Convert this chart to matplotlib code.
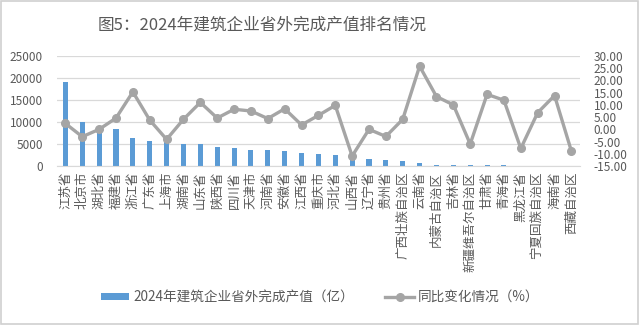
import matplotlib
matplotlib.use("Agg")
import matplotlib.pyplot as plt
import numpy as np
from matplotlib.lines import Line2D
from matplotlib.patches import Patch, Rectangle

plt.rcParams['font.family'] = ['Noto Sans CJK SC', 'DejaVu Sans']

provinces = ['江苏省', '北京市', '湖北省', '福建省', '浙江省', '广东省', '上海市', '湖南省',
             '山东省', '陕西省', '四川省', '天津市', '河南省', '安徽省', '江西省', '重庆市',
             '河北省', '山西省', '辽宁省', '贵州省', '广西壮族自治区', '云南省', '内蒙古自治区',
             '吉林省', '新疆维吾尔自治区', '甘肃省', '青海省', '黑龙江省', '宁夏回族自治区',
             '海南省', '西藏自治区']
# 省外完成产值（亿元）
output_value = [19100, 10000, 8700, 8300, 6300, 5700, 5500, 5000,
                5000, 4250, 4100, 3570, 3570, 3420, 2960, 2740,
                2580, 1900, 1520, 1290, 1060, 610, 330,
                330, 320, 300, 150, 30, 30,
                30, 20]
# 同比变化（%）
yoy_change = [2.4, -3.0, 0.0, 4.6, 15.3, 3.8, -4.1, 4.1,
              11.0, 4.6, 8.2, 7.5, 4.4, 8.4, 1.8, 5.7,
              9.8, -10.9, 0.0, -2.9, 4.1, 25.8, 13.4,
              10.0, -6.0, 14.3, 11.9, -7.8, 6.8,
              13.8, -8.9]

left_ticks = [0, 5000, 10000, 15000, 20000, 25000]
right_ticks = [-15, -10, -5, 0, 5, 10, 15, 20, 25, 30]

bar_color = '#5B9BD5'
line_color = '#A5A5A5'
text_color = '#595959'
grid_color = '#D9D9D9'

fig = plt.figure(figsize=(6.4, 3.25), dpi=100)
fig.patches.append(Rectangle((0.002, 0.003), 0.995, 0.994, transform=fig.transFigure,
                             fill=False, edgecolor='#D0D0D0', linewidth=1.2))

ax = fig.add_axes([0.089, 0.489, 0.817, 0.339])
x = np.arange(len(provinces))
ax.bar(x, output_value, width=0.3, color=bar_color, zorder=2)
ax.set_xlim(-0.5, len(provinces) - 0.5)
ax.set_ylim(0, 25000)
ax.set_yticks(left_ticks)
ax.set_yticklabels([str(v) for v in left_ticks])
ax.grid(axis='y', color=grid_color, linewidth=0.9, zorder=0)
ax.set_axisbelow(True)
ax.set_xticks(x)
ax.set_xticklabels(provinces, rotation=90, fontsize=9, color=text_color, va='top')
ax.tick_params(axis='x', length=0, pad=4)
ax.tick_params(axis='y', length=0, pad=10, labelsize=8.5, labelcolor=text_color)
for side in ['top', 'left', 'right']:
    ax.spines[side].set_visible(False)
ax.spines['bottom'].set_color(grid_color)

ax2 = ax.twinx()
ax2.plot(x, yoy_change, color=line_color, linewidth=2.4, marker='o', markersize=5.5,
         markerfacecolor=line_color, markeredgecolor=line_color, zorder=3)
ax2.set_ylim(-15, 30)
ax2.set_yticks(right_ticks)
ax2.set_yticklabels([f'{v:.2f}' for v in right_ticks])
ax2.tick_params(axis='y', length=0, pad=10, labelsize=8.5, labelcolor=text_color)
for side in ['top', 'left', 'right', 'bottom']:
    ax2.spines[side].set_visible(False)

fig.text(0.41, 0.922, '图5：2024年建筑企业省外完成产值排名情况', ha='center', va='center',
         fontsize=12, color=text_color)

handles = [Patch(facecolor=bar_color, edgecolor='none'),
           Line2D([0], [0], color=line_color, linewidth=2.4, marker='o', markersize=5.5)]
labels = ['2024年建筑企业省外完成产值（亿）', '同比变化情况（%）']
fig.legend(handles, labels, loc='center', bbox_to_anchor=(0.5, 0.086), ncol=2,
           frameon=False, fontsize=9.8, labelcolor=text_color, columnspacing=2.3,
           handlelength=2.1, handletextpad=0.3, handleheight=0.45)

fig.savefig('out.png', dpi=100)
